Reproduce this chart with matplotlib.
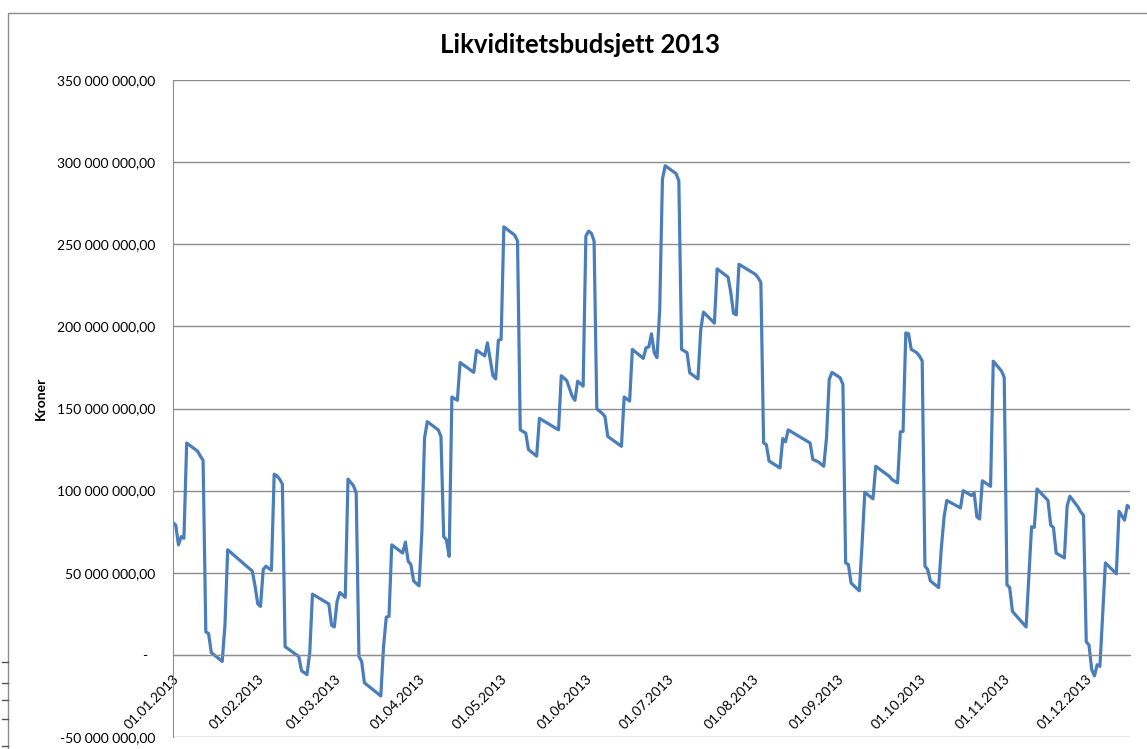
import matplotlib
matplotlib.use("Agg")
import matplotlib.pyplot as plt
from matplotlib.lines import Line2D
import numpy as np

# Day offsets from 01.01.2013 and balance in millions NOK
days = [0, 1, 2, 3, 4, 5, 9, 10, 11, 12, 13, 14, 18, 19, 20, 29, 30, 31, 32, 33,
        34, 36, 37, 38, 39, 40, 41, 46, 47, 49, 50, 51, 57, 58, 59, 60, 61, 63, 64, 65,
        66, 67, 68, 69, 70, 76, 77, 78, 79, 80, 84, 85, 86, 87, 88, 90, 91, 92, 93, 97,
        98, 99, 100, 101, 102, 104, 105, 110, 111, 114, 115, 117, 118, 119, 120, 121, 125, 126, 127, 129,
        130, 133, 134, 141, 142, 144, 146, 147, 148, 150, 151, 152, 153, 154, 155, 157, 158, 159, 164, 165,
        167, 168, 172, 173, 174, 175, 176, 177, 178, 179, 180, 184, 185, 186, 188, 189, 192, 193, 194, 198,
        199, 203, 204, 205, 206, 207, 213, 214, 215, 216, 217, 218, 222, 223, 224, 225, 233, 234, 236, 238,
        239, 240, 241, 244, 245, 246, 247, 248, 251, 252, 253, 256, 257, 262, 263, 265, 266, 267, 268, 269,
        270, 272, 273, 274, 275, 276, 277, 280, 281, 282, 283, 288, 289, 292, 293, 294, 295, 296, 298, 299,
        300, 302, 303, 304, 305, 306, 307, 312, 313, 314, 315, 316, 320, 321, 322, 323, 326, 327, 328, 331,
        332, 333, 334, 335, 336, 337, 338, 339, 341, 345, 346, 348, 349, 350]
balance_m = [80.5, 79, 67, 72, 71, 129, 124, 121, 118.5, 14, 13, 1.4, -4, 18, 64, 51, 42, 31, 29.5, 52,
             54, 51.5, 110, 109, 107, 104, 5, -1, -9.6, -12, 1, 37, 31, 18, 17, 32.5, 38, 35, 107, 105,
             103, 98.6, -1, -4, -17, -25, 5, 23, 23.5, 67, 62, 68.7, 57, 55, 45, 42, 74, 132, 142, 137,
             133, 72, 70, 60, 157, 155, 178, 172, 185.5, 182, 190, 170, 168, 191.6, 192, 260.6, 255.5, 252, 137, 135,
             125, 121, 144, 137, 170, 167, 157.5, 155, 166.7, 163.6, 255, 258, 256.7, 252, 149.8, 147, 145, 133, 127, 157,
             154.5, 186, 180.5, 187, 187.5, 195.5, 184, 181, 210, 289.6, 297.8, 293, 288.6, 186, 184, 171.7, 168, 198, 208.7, 202,
             235, 230, 220.6, 208, 207, 237.8, 231.7, 229.6, 226.7, 129, 128, 118, 113.8, 131.7, 129.7, 137, 129, 119, 117.5, 114.8,
             132, 167.7, 172, 168.7, 164.6, 56, 55, 43.7, 39, 67, 99, 95, 114.8, 108.7, 106.7, 104.7, 135.8, 136, 196, 195.5,
             186, 184, 182, 179, 54, 52, 45, 41, 65, 84, 94, 89.5, 100, 97, 98.6, 84, 82.7, 106, 103.7, 102.6,
             178.8, 174.8, 172.8, 169, 42.7, 41, 26.5, 17, 47.7, 78, 77.6, 101, 94, 79, 77.6, 62, 59, 90.5, 96.6, 90,
             87, 85, 8, 6, -9, -12.8, -6, -7, 56, 49.4, 87.4, 82, 91, 89.5]

title = "Likviditetsbudsjett 2013"
y_label = "Kroner"
y_ticks_m = [-50, 0, 50, 100, 150, 200, 250, 300, 350]
month_starts = ["2013-01-01", "2013-02-01", "2013-03-01", "2013-04-01", "2013-05-01", "2013-06-01",
                "2013-07-01", "2013-08-01", "2013-09-01", "2013-10-01", "2013-11-01", "2013-12-01"]

start = np.datetime64("2013-01-01")
dates = start + np.array(days, dtype="timedelta64[D]")
values = np.array(balance_m) * 1e6
months = np.array(month_starts, dtype="datetime64[D]")
month_labels = [f"{m[8:10]}.{m[5:7]}.{m[0:4]}" for m in month_starts]

plt.rcParams["font.family"] = ["Lato", "DejaVu Sans"]

fig = plt.figure(figsize=(11.47, 7.49), dpi=100)
ax = fig.add_axes([173 / 1147, 12 / 749, (1130 - 173) / 1147, (737 - 80) / 749])

ax.plot(dates, values, color="#4a7ebb", linewidth=2.3, solid_joinstyle="round")

# spines first: moving a spine resets the ticks
for side in ["top", "right"]:
    ax.spines[side].set_visible(False)
ax.spines["bottom"].set_position(("data", 0))
ax.spines["bottom"].set_color("#8c8c8c")
ax.spines["left"].set_color("#8c8c8c")
ax.tick_params(axis="y", length=0, pad=13)
ax.tick_params(axis="x", length=0, pad=13)


def kr(v):
    if v == 0:
        return "-  "
    return f"{v:,.2f}".replace(",", " ").replace(".", ",")


ax.set_ylim(y_ticks_m[0] * 1e6, y_ticks_m[-1] * 1e6)
ax.set_yticks([t * 1e6 for t in y_ticks_m])
ax.set_yticklabels([kr(t * 1e6) for t in y_ticks_m], fontsize=10)
ax.yaxis.grid(True, color="#8c8c8c", linewidth=1)
ax.set_axisbelow(True)

ax.set_xlim(dates[0], dates[-1])
ax.set_xticks(months)
ax.set_xticklabels(month_labels, rotation=45, ha="right", va="top",
                   rotation_mode="anchor", fontsize=10)

ax.set_ylabel(y_label, fontsize=10, fontweight="bold")
ax.yaxis.set_label_coords(-0.132, 0.515)

fig.text(580 / 1147, 1 - 45 / 749, title, ha="center", va="center",
         fontsize=18.5, fontweight="bold")

# chart area frame (left and top edges visible in the screenshot)
fig.add_artist(Line2D([8 / 1147, 8 / 1147, 1.0], [0.0, 1 - 13 / 749, 1 - 13 / 749],
                      transform=fig.transFigure, color="#8c8c8c", linewidth=1))
for yp in [662, 683, 700, 719, 746]:
    fig.add_artist(Line2D([2 / 1147, 8 / 1147], [1 - yp / 749, 1 - yp / 749],
                          transform=fig.transFigure, color="#555555", linewidth=1))

fig.savefig("out.png", dpi=100)
